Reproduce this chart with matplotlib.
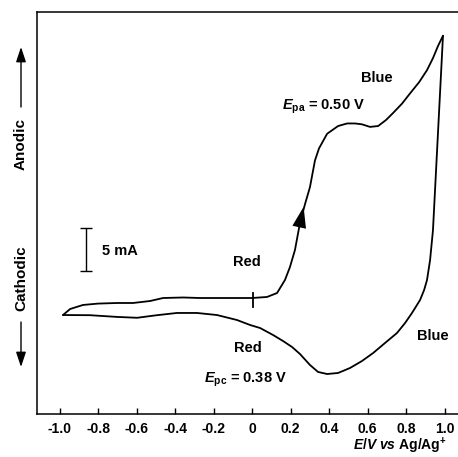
"""Cyclic voltammogram of the red/blue film."""

import matplotlib

matplotlib.use("Agg")

import matplotlib.pyplot as plt
from matplotlib.patches import FancyArrowPatch

# potential (V vs Ag/Ag+) and current (mA)
forward_v = [-0.982, -0.945, -0.878, -0.80, -0.701, -0.618, -0.53, -0.462, -0.358,
             -0.27, -0.15, -0.01, 0.0, 0.078, 0.13, 0.171, 0.197, 0.223, 0.249,
             0.275, 0.301, 0.327, 0.348, 0.39, 0.447, 0.494, 0.535, 0.571, 0.613,
             0.655, 0.696, 0.732, 0.779, 0.821, 0.868, 0.909, 0.94, 0.966, 0.992]
forward_i = [-1.98, -1.28, -0.81, -0.65, -0.58, -0.58, -0.35, 0.0, 0.06,
             0.0, 0.0, 0.0, 0.0, 0.12, 0.58, 2.09, 3.6, 5.58, 8.72,
             10.9, 12.9, 16.0, 17.4, 19.1, 20.0, 20.3, 20.3, 20.2, 19.9,
             20.0, 20.7, 21.5, 22.6, 23.8, 25.1, 26.5, 27.9, 29.3, 30.5]
reverse_v = [0.992, 0.966, 0.94, 0.925, 0.909, 0.894, 0.873, 0.831, 0.795,
             0.753, 0.691, 0.629, 0.571, 0.509, 0.447, 0.39, 0.343, 0.301,
             0.249, 0.208, 0.161, 0.109, 0.042, -0.01, -0.078, -0.182,
             -0.286, -0.39, -0.494, -0.597, -0.701, -0.842, -0.982]
reverse_i = [30.5, 19.2, 7.9, 4.42, 2.09, 0.93, -0.23, -1.74, -2.91,
             -4.07, -5.23, -6.4, -7.33, -8.14, -8.72, -8.84, -8.6, -7.79,
             -6.51, -5.7, -5.0, -4.3, -3.49, -3.14, -2.56, -1.98,
             -1.74, -1.74, -2.0, -2.3, -2.2, -2.0, -1.98]

x_ticks = [-1.0, -0.8, -0.6, -0.4, -0.2, 0.0, 0.2, 0.4, 0.6, 0.8, 1.0]
x_tick_labels = ["-1.0", "-0.8", "-0.6", "-0.4", "-0.2", "0",
                 "0.2", "0.4", "0.6", "0.8", "1.0"]

plt.rcParams["font.family"] = ["Liberation Sans", "DejaVu Sans"]
plt.rcParams["font.weight"] = "bold"
plt.rcParams["mathtext.fontset"] = "custom"
plt.rcParams["mathtext.rm"] = "Liberation Sans:bold"
plt.rcParams["mathtext.it"] = "Liberation Sans:italic:bold"
plt.rcParams["mathtext.bf"] = "Liberation Sans:bold"

fig = plt.figure(figsize=(4.58, 4.57), dpi=100)
ax = fig.add_axes([0.0808, 0.0941, 0.9192, 0.8796])

line_kw = dict(color="black", lw=1.3, solid_capstyle="round", solid_joinstyle="round")
ax.plot(forward_v, forward_i, **line_kw)
ax.plot(reverse_v, reverse_i, **line_kw)

# start marker at 0 V
ax.plot([0.005, 0.005], [0.58, -1.05], color="black", lw=1.3)

# scan direction arrow
ax.annotate(
    "",
    xy=(0.268, 10.6),
    xytext=(0.236, 7.3),
    arrowprops=dict(arrowstyle="-|>,head_length=1.5,head_width=0.5",
                    mutation_scale=10, color="black", lw=0,
                    shrinkA=0, shrinkB=0),
)

# 5 mA scale bar
ax.errorbar([-0.862], [5.64], yerr=[2.5], color="black", lw=1.0,
            capsize=4.5, capthick=1.0)
ax.text(-0.779, 5.47, "5 mA", fontsize=10.5, va="center", ha="left")

label_size = 10.5
ax.text(0.649, 25.6, "Blue", fontsize=label_size, ha="center", va="center")
ax.text(0.369, 22.2, r"$E_{\mathrm{pa}}$ = 0.50 V", fontsize=label_size,
        ha="center", va="center")
ax.text(-0.026, 4.19, "Red", fontsize=label_size, ha="center", va="center")
ax.text(-0.021, -5.81, "Red", fontsize=label_size, ha="center", va="center")
ax.text(-0.036, -9.53, r"$E_{\mathrm{pc}}$ = 0.38 V", fontsize=label_size,
        ha="center", va="center")
ax.text(0.94, -4.42, "Blue", fontsize=label_size, ha="center", va="center")

ax.set_xlim(-1.117, 1.07)
ax.set_ylim(-13.49, 33.26)
ax.set_xticks(x_ticks)
ax.set_xticklabels(x_tick_labels, fontsize=10, fontweight="bold")
ax.set_yticks([])
ax.tick_params(axis="x", direction="in", length=4.5, width=1.0, pad=6)
ax.spines["right"].set_visible(False)
for side in ["left", "top", "bottom"]:
    ax.spines[side].set_linewidth(1.1)

fig.text(447 / 458, 1 - 446 / 457, r"$E/V$ $vs$ Ag/Ag$^{+}$",
         fontsize=10, ha="right", va="center")

# anodic / cathodic labels with arrows, outside the axes
fx = 21 / 458
fig.text(fx, 1 - 144 / 457, "Anodic", rotation=90, fontsize=11, ha="center", va="center")
fig.text(fx, 1 - 278 / 457, "Cathodic", rotation=90, fontsize=11, ha="center", va="center")
arrow_kw = dict(arrowstyle="-|>,head_length=0.9,head_width=0.3", mutation_scale=10,
                color="black", lw=1.0, shrinkA=0, shrinkB=0)
fig.patches.append(FancyArrowPatch(
    (fx, 1 - 107 / 457), (fx, 1 - 47 / 457), transform=fig.transFigure, **arrow_kw))
fig.patches.append(FancyArrowPatch(
    (fx, 1 - 322 / 457), (fx, 1 - 367 / 457), transform=fig.transFigure, **arrow_kw))

fig.savefig("out.png", dpi=100)
